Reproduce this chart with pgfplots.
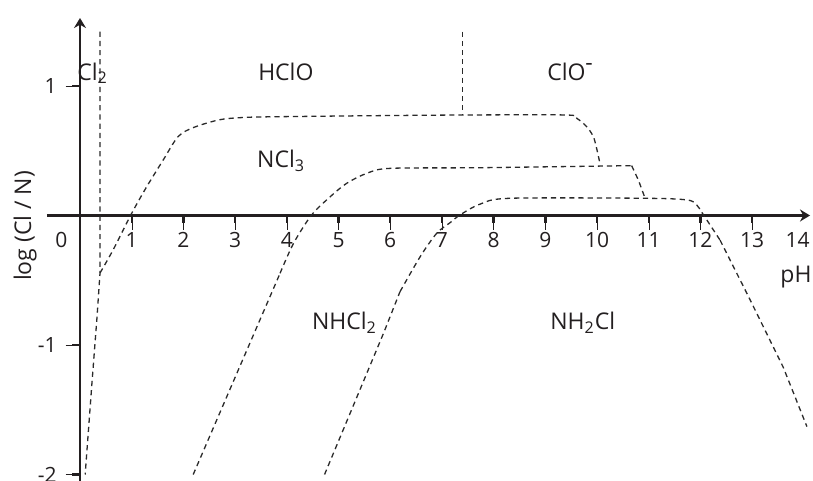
\documentclass[border=0pt]{standalone}
\usepackage{pgfplots}
\pgfplotsset{compat=1.18}
\usepackage{fontspec}
\setmainfont{Open Sans}
\usetikzlibrary{arrows.meta}
\definecolor{ink}{HTML}{231F20}
\definecolor{dashink}{HTML}{2A2A2A}

\begin{document}
\begin{tikzpicture}
\useasboundingbox (-40pt,-132.75pt) rectangle (366.5pt,107.75pt);
\begin{axis}[
  at={(0,0)}, anchor=origin,
  x=25.85pt, y=64.75pt,
  xmin=-0.64, xmax=14.12,
  ymin=-2.05, ymax=1.525,
  axis lines=middle,
  clip=false,
  axis line style={line width=1.25pt, color=ink, -{Stealth[length=5pt,width=6pt]}},
  tick align=center,
  major tick length=7.2pt,
  every x tick/.style={color=ink, yshift=-3.6pt},
  every y tick/.style={color=ink, xshift=-3.6pt},
  xtick={1,...,13},
  ytick={-2,-1,1},
  /pgf/number format/assume math mode=true,
  tick label style={font=\fontsize{10.5}{12}\selectfont, color=ink},
  xticklabel style={yshift=-1.5pt},
  yticklabel style={xshift=-4.5pt},
  bound/.style={color=dashink, line width=0.65pt, no markers,
    dash pattern=on 2.6pt off 2pt},
]

% HClO / NCl3 boundary
\addplot[bound, smooth, tension=0.5] coordinates {
  (0.387,-0.444) (0.64,-0.266) (1.0,0.017) (1.29,0.222) (1.61,0.429)
  (1.90,0.610) (2.20,0.680) (2.71,0.740) (3.22,0.758) (3.87,0.763)
  (5.5,0.770) (7.4,0.776) (9.41,0.776) (9.61,0.750) (9.80,0.686)
  (9.93,0.608) (10.0,0.506) (10.06,0.395)
};

% NCl3 / NHCl2 boundary
\addplot[bound] coordinates {(2.19,-2.0) (3.0,-1.25) (3.87,-0.446)};
\addplot[bound, smooth, tension=0.5] coordinates {
  (3.87,-0.446) (4.13,-0.215) (4.48,0.004) (4.84,0.145) (5.16,0.249)
  (5.55,0.326) (6.0,0.364) (7.74,0.369) (10.67,0.385)
};
\addplot[bound] coordinates {(10.67,0.385) (10.80,0.274) (10.93,0.133)};

% NHCl2 / NH2Cl boundary
\addplot[bound] coordinates {(4.73,-2.0) (5.87,-0.91) (6.19,-0.588)};
\addplot[bound, smooth, tension=0.5] coordinates {
  (6.19,-0.588) (6.58,-0.318) (6.90,-0.137) (7.16,-0.055) (7.35,0.004)
  (7.74,0.088) (8.32,0.133) (10.93,0.133) (11.74,0.120) (11.93,0.081)
  (12.06,0.004) (12.38,-0.19)
};
\addplot[bound] coordinates {(12.38,-0.19) (12.96,-0.65) (13.6,-1.17) (14.06,-1.63)};

% Cl2 / HClO boundary
\addplot[bound] coordinates {(0.387,1.42) (0.387,-0.444) (0.33,-0.78) (0.23,-1.30) (0.10,-2.0)};

% HClO / ClO- boundary
\addplot[bound] coordinates {(7.4,1.42) (7.4,0.776)};

% heavier tick strokes on both axes
\pgfplotsinvokeforeach{1,...,13}{
  \draw[line width=1.2pt, color=ink] (axis cs:#1,0) -- ++(0pt,-3.8pt);
}
\pgfplotsinvokeforeach{-2,-1,1}{
  \draw[line width=1.2pt, color=ink] (axis cs:0,#1) -- ++(-3.8pt,0pt);
}

% end labels of the pH scale
\begin{scope}[every node/.style={font=\fontsize{10.5}{12}\selectfont, text=ink}]
\node at (axis cs:-0.36,-0.19) {0};
\node at (axis cs:13.88,-0.19) {14};
\end{scope}

\begin{scope}[every node/.style={font=\fontsize{11.5}{13}\selectfont, text=ink, inner sep=0pt, anchor=base west}]
\node at (axis cs:-0.06,1.046) {Cl\textsubscript{2}};
\node at (axis cs:3.44,1.046) {HClO};
\node at (axis cs:9.03,1.046) {ClO\raisebox{0.42em}{-}};
\node at (axis cs:3.42,0.367) {NCl\textsubscript{3}};
\node at (axis cs:4.48,-0.884) {NHCl\textsubscript{2}};
\node at (axis cs:9.09,-0.884) {NH\textsubscript{2}Cl};
\node at (axis cs:13.54,-0.52) {pH};
\node[rotate=90, anchor=center] at (axis cs:-1.06,-0.08) {log (Cl / N)};
\end{scope}
\end{axis}
\end{tikzpicture}
\end{document}
